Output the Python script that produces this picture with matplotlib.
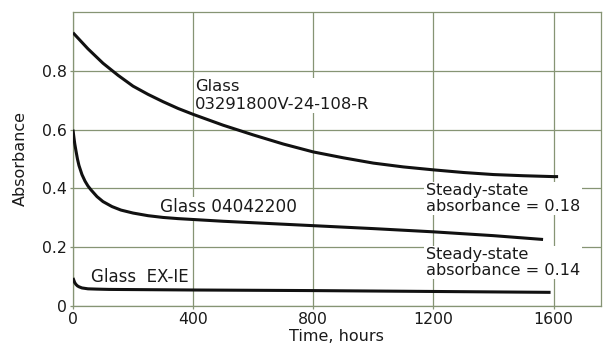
import matplotlib
matplotlib.use("Agg")
import matplotlib.pyplot as plt

# Absorbance vs. time for three glass samples
t_glass_r = [0, 50, 100, 150, 200, 250, 300, 350, 400, 500, 600, 700, 800, 900,
             1000, 1100, 1200, 1300, 1400, 1500, 1600, 1615]
a_glass_r = [0.93, 0.875, 0.826, 0.785, 0.748, 0.72, 0.695, 0.672, 0.652, 0.615,
             0.582, 0.551, 0.524, 0.504, 0.486, 0.473, 0.463, 0.454, 0.447, 0.443,
             0.44, 0.44]

t_glass_04 = [0, 3, 6, 10, 15, 20, 30, 40, 50, 60, 80, 100, 130, 160, 200, 250,
              300, 350, 400, 500, 600, 800, 1000, 1200, 1400, 1565]
a_glass_04 = [0.60, 0.575, 0.552, 0.528, 0.50, 0.478, 0.447, 0.425, 0.408, 0.395,
              0.372, 0.355, 0.338, 0.326, 0.316, 0.307, 0.301, 0.297, 0.294, 0.288,
              0.283, 0.273, 0.263, 0.252, 0.239, 0.226]

t_glass_ex = [0, 3, 6, 10, 15, 20, 30, 50, 80, 120, 400, 800, 1200, 1590]
a_glass_ex = [0.095, 0.087, 0.079, 0.073, 0.068, 0.065, 0.061, 0.058, 0.057,
              0.056, 0.054, 0.052, 0.049, 0.046]

x_ticks = [0, 400, 800, 1200, 1600]
x_tick_labels = ["0", "400", "800", "1200", "1600"]
y_ticks = [0, 0.2, 0.4, 0.6, 0.8]
y_tick_labels = ["0", "0.2", "0.4", "0.6", "0.8"]

label_r = "Glass\n03291800V-24-108-R"
label_04 = "Glass 04042200"
label_ex = "Glass  EX-IE"
steady_hi = "Steady-state\nabsorbance = 0.18"
steady_lo = "Steady-state\nabsorbance = 0.14"

plt.rcParams["font.family"] = ["DejaVu Sans"]

grid_color = "#869474"
curve_color = "#111111"
text_color = "#1a1a1a"

fig = plt.figure(figsize=(6.13, 3.46), dpi=100)
ax = fig.add_axes([0.119, 0.116, 0.861, 0.849])

ax.set_xlim(0, 1757)
ax.set_ylim(0, 1.0)

ax.set_xticks(x_ticks)
ax.set_xticklabels(x_tick_labels)
ax.set_yticks(y_ticks)
ax.set_yticklabels(y_tick_labels)
ax.tick_params(axis="both", length=2.5, width=0.9, color=grid_color,
               labelsize=11.3, pad=2, labelcolor=text_color)

ax.grid(True, color=grid_color, linewidth=0.9)
ax.set_axisbelow(True)
for sp in ax.spines.values():
    sp.set_color(grid_color)
    sp.set_linewidth(0.9)

for t, a in [(t_glass_r, a_glass_r), (t_glass_04, a_glass_04), (t_glass_ex, a_glass_ex)]:
    ax.plot(t, a, color=curve_color, linewidth=2.2, solid_capstyle="butt",
            solid_joinstyle="round", zorder=5)

box = dict(facecolor="white", edgecolor="none", pad=1.0)
ax.text(406, 0.716, label_r, fontsize=11.8, va="center", ha="left",
        color=text_color, bbox=box, zorder=4)
ax.text(290, 0.336, label_04, fontsize=12.2, va="center", ha="left",
        color=text_color, bbox=box, zorder=4)
ax.text(60, 0.097, label_ex, fontsize=12, va="center", ha="left",
        color=text_color, bbox=box, zorder=4)
ax.text(1175, 0.366, steady_hi, fontsize=11.6, va="center", ha="left",
        color=text_color, bbox=box, zorder=4, linespacing=1.05)
ax.text(1175, 0.148, steady_lo, fontsize=11.6, va="center", ha="left",
        color=text_color, bbox=box, zorder=4, linespacing=1.05)

ax.set_xlabel("Time, hours", fontsize=11.5, labelpad=1, color=text_color)
ax.set_ylabel("Absorbance", fontsize=11.5, labelpad=10, color=text_color)

fig.savefig("out.png", dpi=100, facecolor="white")
